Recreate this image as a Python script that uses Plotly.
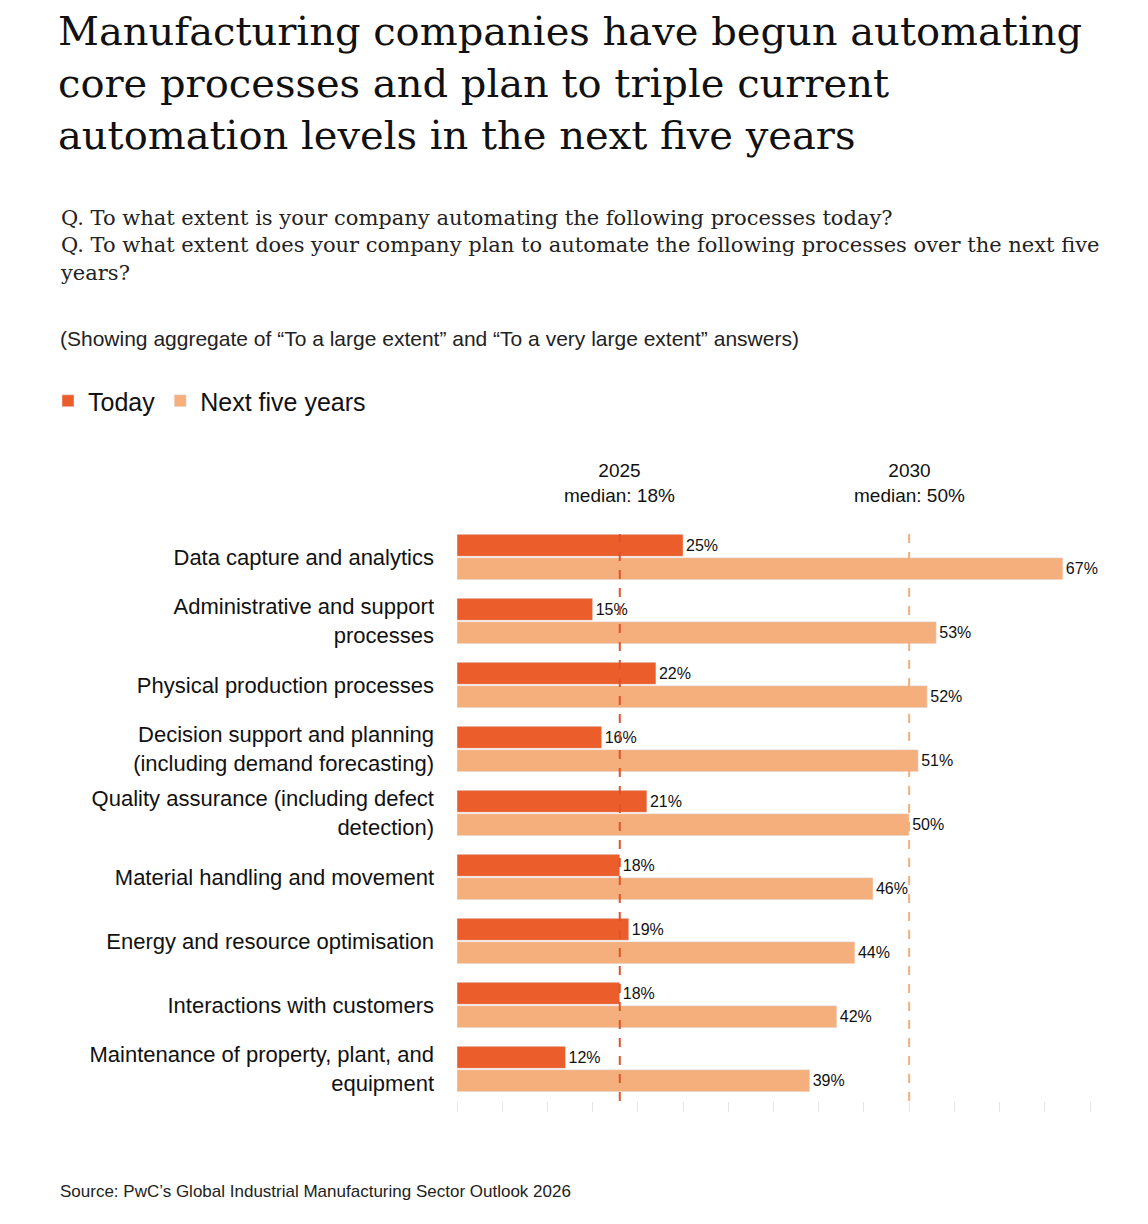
import plotly.graph_objects as go

categories = [
    "Data capture and analytics",
    "Administrative and support<br>processes",
    "Physical production processes",
    "Decision support and planning<br>(including demand forecasting)",
    "Quality assurance (including defect<br>detection)",
    "Material handling and movement",
    "Energy and resource optimisation",
    "Interactions with customers",
    "Maintenance of property, plant, and<br>equipment",
]
today = [25, 15, 22, 16, 21, 18, 19, 18, 12]
next_five = [67, 53, 52, 51, 50, 46, 44, 42, 39]
median_2025 = 18
median_2030 = 50

W, H = 1148, 1224
OFF = 8  # page margin offset
L, R, T, B = 457 - OFF, 1090 - OFF, 525 - OFF, 1101 - OFF


def xp(px):
    return (px - OFF - L) / (R - L)


def yp(py):
    return (B - (py - OFF)) / (B - T)


fig = go.Figure()
fig.add_trace(go.Bar(
    y=categories, x=today, name="Today", orientation="h",
    marker=dict(color="#eb5e2c"),
    text=[f"{v}%" for v in today], textposition="outside",
    textfont=dict(size=16, color="#111"), cliponaxis=False,
))
fig.add_trace(go.Bar(
    y=categories, x=next_five, name="Next five years", orientation="h",
    marker=dict(color="#f4af7c"),
    text=[f"{v}%" for v in next_five], textposition="outside",
    textfont=dict(size=16, color="#111"), cliponaxis=False,
))

for val, col, yr in [(median_2025, "#e0542a", "2025"), (median_2030, "#f4af7c", "2030")]:
    fig.add_shape(type="line", xref="x", yref="paper", x0=val, x1=val, y0=0, y1=1.0,
                  line=dict(color=col, width=2, dash="dash"))
    fig.add_annotation(xref="x", yref="paper", x=val, y=yp(458), yanchor="top",
                       text=f"{yr}<br>median: {val}%", showarrow=False,
                       font=dict(size=19, color="#111", family="Liberation Sans Narrow, Arial"),
                       align="center")

fig.add_annotation(xref="paper", yref="paper", x=xp(56), y=yp(6), xanchor="left", yanchor="top",
                   align="left", showarrow=False,
                   text="Manufacturing companies have begun automating<br>core processes and plan to triple current<br>automation levels in the next five years",
                   font=dict(size=40, family="DejaVu Serif", color="#111"))
fig.add_annotation(xref="paper", yref="paper", x=xp(58), y=yp(204), xanchor="left", yanchor="top",
                   align="left", showarrow=False,
                   text="Q. To what extent is your company automating the following processes today?<br>Q. To what extent does your company plan to automate the following processes over the next five<br>years?",
                   font=dict(size=21, family="DejaVu Serif", color="#222"))
fig.add_annotation(xref="paper", yref="paper", x=xp(58), y=yp(339), xanchor="left", yanchor="middle",
                   showarrow=False,
                   text="(Showing aggregate of “To a large extent” and “To a very large extent” answers)",
                   font=dict(size=21, family="Liberation Sans", color="#222"))
fig.add_annotation(xref="paper", yref="paper", x=xp(58), y=yp(1191), xanchor="left", yanchor="middle",
                   showarrow=False,
                   text="Source: PwC’s Global Industrial Manufacturing Sector Outlook 2026",
                   font=dict(size=17, family="Liberation Sans", color="#222"))

fig.update_layout(
    width=W, height=H,
    margin=dict(l=L, r=W - R, t=T, b=H - B),
    paper_bgcolor="white", plot_bgcolor="white",
    barmode="group", bargap=0.27, bargroupgap=0.06,
    font=dict(family="Liberation Sans, Arial", color="#111"),
    legend=dict(orientation="h", x=xp(48), y=yp(401), xanchor="left", yanchor="middle",
                font=dict(size=25, color="#111"), traceorder="normal", itemwidth=30),
    xaxis=dict(range=[0, 70], dtick=5, showticklabels=False, showgrid=False, zeroline=False,
               ticks="outside", ticklen=10, tickcolor="#e6e6e6", showline=False),
    yaxis=dict(autorange="reversed", tickfont=dict(size=22, color="#111"), ticks="",
               ticklabelstandoff=22, showgrid=False),
)
fig.write_html("out.html")
